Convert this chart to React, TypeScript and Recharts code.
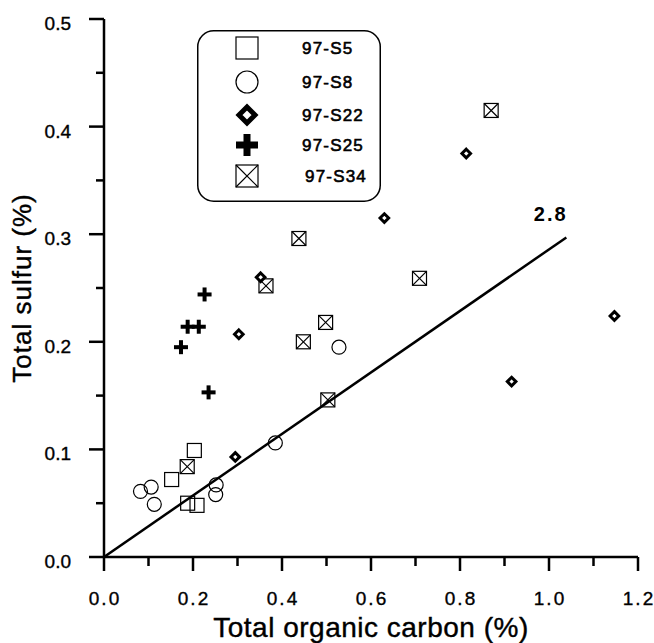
import { ScatterChart, Scatter, XAxis, YAxis, Legend, ReferenceDot, Label } from "recharts"

const FONT = "'Liberation Sans', Arial, sans-serif"

// 97-S5 .. 97-S34 sample sets (TOC %, total S %)
const s5 = [
    { x: 0.152, y: 0.072 },
    { x: 0.203, y: 0.099 },
    { x: 0.188, y: 0.05 },
    { x: 0.209, y: 0.048 },
]

const s8 = [
    { x: 0.082, y: 0.061 },
    { x: 0.106, y: 0.065 },
    { x: 0.113, y: 0.049 },
    { x: 0.252, y: 0.067 },
    { x: 0.251, y: 0.058 },
    { x: 0.385, y: 0.106 },
    { x: 0.528, y: 0.195 },
]

const s22 = [
    { x: 0.295, y: 0.093 },
    { x: 0.303, y: 0.207 },
    { x: 0.352, y: 0.26 },
    { x: 0.63, y: 0.315 },
    { x: 0.814, y: 0.375 },
    { x: 0.916, y: 0.163 },
    { x: 1.147, y: 0.224 },
]

const s25 = [
    { x: 0.226, y: 0.244 },
    { x: 0.188, y: 0.214 },
    { x: 0.213, y: 0.214 },
    { x: 0.173, y: 0.195 },
    { x: 0.235, y: 0.153 },
]

const s34 = [
    { x: 0.438, y: 0.296 },
    { x: 0.364, y: 0.252 },
    { x: 0.498, y: 0.218 },
    { x: 0.448, y: 0.2 },
    { x: 0.503, y: 0.146 },
    { x: 0.187, y: 0.084 },
    { x: 0.87, y: 0.415 },
    { x: 0.709, y: 0.259 },
]

// C/S = 2.8 reference line
const fitLine = [
    { x: 0, y: 0 },
    { x: 1.039, y: 0.297 },
]
const fitLabel = { x: 1.004, y: 0.319, text: "2.8" }

const xTicks = [0, 0.1, 0.2, 0.3, 0.4, 0.5, 0.6, 0.7, 0.8, 0.9, 1.0, 1.1, 1.2]
const yTicks = [0, 0.05, 0.1, 0.15, 0.2, 0.25, 0.3, 0.35, 0.4, 0.45, 0.5]

const seriesNames = ["97-S5", "97-S8", "97-S22", "97-S25", "97-S34"]

const isMajor = (v: number) => Math.round(v * 10) % 2 === 0
const isTenth = (v: number) => Math.abs(v * 10 - Math.round(v * 10)) < 1e-6

// ---- marker shapes ----
const SquareMark = ({ cx, cy, s = 14 }: any) => (
    <rect x={cx - s / 2} y={cy - s / 2} width={s} height={s} fill="none" stroke="#000" strokeWidth={1.2} />
)

const CircleMark = ({ cx, cy, s = 14 }: any) => (
    <circle cx={cx} cy={cy} r={s / 2} fill="none" stroke="#000" strokeWidth={1.2} />
)

const DiamondMark = ({ cx, cy, h = 4.3, w = 3 }: any) => (
    <polygon
        points={`${cx},${cy - h} ${cx + h},${cy} ${cx},${cy + h} ${cx - h},${cy}`}
        fill="#fff"
        stroke="#000"
        strokeWidth={w}
    />
)

const PlusMark = ({ cx, cy, s = 14, t = 4 }: any) => (
    <g fill="#000">
        <rect x={cx - s / 2} y={cy - t / 2} width={s} height={t} />
        <rect x={cx - t / 2} y={cy - s / 2} width={t} height={s} />
    </g>
)

const CrossSquareMark = ({ cx, cy, s = 14 }: any) => (
    <g fill="none" stroke="#000" strokeWidth={1.2}>
        <rect x={cx - s / 2} y={cy - s / 2} width={s} height={s} fill="#fff" />
        <line x1={cx - s / 2} y1={cy - s / 2} x2={cx + s / 2} y2={cy + s / 2} />
        <line x1={cx + s / 2} y1={cy - s / 2} x2={cx - s / 2} y2={cy + s / 2} />
    </g>
)

// ---- axis ticks ----
const XTick = ({ x, y, payload }: any) => {
    const major = isMajor(payload.value)
    return (
        <g>
            <line x1={x} x2={x} y1={y} y2={y + (major ? 14 : 9)} stroke="#000" strokeWidth={2.5} />
            {major && (
                <text x={x + 1} y={y + 48} textAnchor="middle" fontFamily={FONT} fontSize={19} letterSpacing={2} fill="#000" stroke="#000" strokeWidth={0.35}>
                    {payload.value.toFixed(1)}
                </text>
            )}
        </g>
    )
}

const YTick = ({ x, y, payload }: any) => {
    const major = isTenth(payload.value)
    return (
        <g>
            <line x1={x - (major ? 15 : 8)} x2={x} y1={y} y2={y} stroke="#000" strokeWidth={2.5} />
            {major && (
                <text x={x - 33} y={y + 11} textAnchor="end" fontFamily={FONT} fontSize={19} fill="#000" stroke="#000" strokeWidth={0.35}>
                    {payload.value.toFixed(1)}
                </text>
            )}
        </g>
    )
}

// ---- legend ----
const legendShapes = [
    (cx: number, cy: number) => <SquareMark cx={cx} cy={cy} s={22} />,
    (cx: number, cy: number) => <CircleMark cx={cx} cy={cy} s={22} />,
    (cx: number, cy: number) => <DiamondMark cx={cx} cy={cy} h={8} w={5} />,
    (cx: number, cy: number) => <PlusMark cx={cx} cy={cy} s={22} t={7} />,
    (cx: number, cy: number) => <CrossSquareMark cx={cx} cy={cy} s={22} />,
]
const legendRowY = [18, 52, 85, 115, 146]

const LegendBox = () => (
    <svg width={184} height={172} style={{ display: "block" }}>
        <rect x={0.75} y={0.75} width={182.5} height={170.5} rx={16} fill="#fff" stroke="#000" strokeWidth={1.5} />
        {seriesNames.map((name, i) => (
            <g key={name}>
                {legendShapes[i](50, legendRowY[i])}
                <text
                    x={i === 4 ? 108 : 105}
                    y={legendRowY[i] + 6}
                    fontFamily={FONT}
                    fontSize={17}
                    letterSpacing={1.2}
                    fill="#000"
                    stroke="#000"
                    strokeWidth={0.6}
                >
                    {name}
                </text>
            </g>
        ))}
    </svg>
)

export default function App() {
    return (
        <div style={{ position: "absolute", left: 0, top: 0, width: 654, height: 643, background: "#fff" }}>
            <ScatterChart width={654} height={643} margin={{ top: 19, right: 16, bottom: 0, left: 0 }}>
                <XAxis
                    type="number"
                    dataKey="x"
                    domain={[0, 1.2]}
                    ticks={xTicks}
                    interval={0}
                    height={86}
                    tickSize={0}
                    tickMargin={0}
                    tickLine={false}
                    tick={<XTick />}
                    axisLine={{ stroke: "#000", strokeWidth: 2.5 }}
                    allowDataOverflow
                >
                    <Label
                        value="Total organic carbon (%)"
                        position="insideBottom"
                        offset={6}
                        style={{ fontFamily: FONT, fontSize: 28, letterSpacing: 0.5, fill: "#000", stroke: "#000", strokeWidth: 0.4 }}
                    />
                </XAxis>
                <XAxis xAxisId="top" orientation="top" type="number" domain={[0, 1.2]} height={0} tick={false} tickLine={false} axisLine={{ stroke: "#000", strokeWidth: 2 }} />
                <YAxis
                    type="number"
                    dataKey="y"
                    domain={[0, 0.5]}
                    ticks={yTicks}
                    interval={0}
                    width={104}
                    tickSize={0}
                    tickMargin={0}
                    tickLine={false}
                    tick={<YTick />}
                    axisLine={{ stroke: "#000", strokeWidth: 2.5 }}
                    allowDataOverflow
                >
                    <Label
                        value="Total sulfur (%)"
                        angle={-90}
                        position="insideLeft"
                        offset={22}
                        style={{ fontFamily: FONT, fontSize: 26, letterSpacing: 1, fill: "#000", stroke: "#000", strokeWidth: 0.4, textAnchor: "middle" }}
                    />
                </YAxis>
                <YAxis yAxisId="r" orientation="right" type="number" domain={[0, 0.5]} width={0} tick={false} tickLine={false} axisLine={{ stroke: "#000", strokeWidth: 2.5 }} />

                <Legend layout="vertical" align="center" verticalAlign="middle" content={() => <LegendBox />} wrapperStyle={{ left: 197, top: 30, width: 184, height: 172 }} />

                <Scatter name="97-S5" data={s5} shape={(p: any) => <SquareMark cx={p.cx} cy={p.cy} />} isAnimationActive={false} />
                <Scatter name="97-S8" data={s8} shape={(p: any) => <CircleMark cx={p.cx} cy={p.cy} />} isAnimationActive={false} />
                <Scatter name="97-S34" data={s34} shape={(p: any) => <CrossSquareMark cx={p.cx} cy={p.cy} />} isAnimationActive={false} />
                <Scatter name="97-S22" data={s22} shape={(p: any) => <DiamondMark cx={p.cx} cy={p.cy} />} isAnimationActive={false} />
                <Scatter name="97-S25" data={s25} shape={(p: any) => <PlusMark cx={p.cx} cy={p.cy} />} isAnimationActive={false} />
                <Scatter
                    name="fit"
                    data={fitLine}
                    line={{ stroke: "#000", strokeWidth: 2.5 }}
                    shape={() => null}
                    legendType="none"
                    isAnimationActive={false}
                />
                <ReferenceDot
                    x={fitLabel.x}
                    y={fitLabel.y}
                    r={0}
                    shape={(p: any) => (
                        <text x={p.cx} y={p.cy + 7} textAnchor="middle" fontFamily={FONT} fontSize={20} fontWeight="bold" letterSpacing={2} fill="#000">
                            {fitLabel.text}
                        </text>
                    )}
                />
            </ScatterChart>
        </div>
    )
}
